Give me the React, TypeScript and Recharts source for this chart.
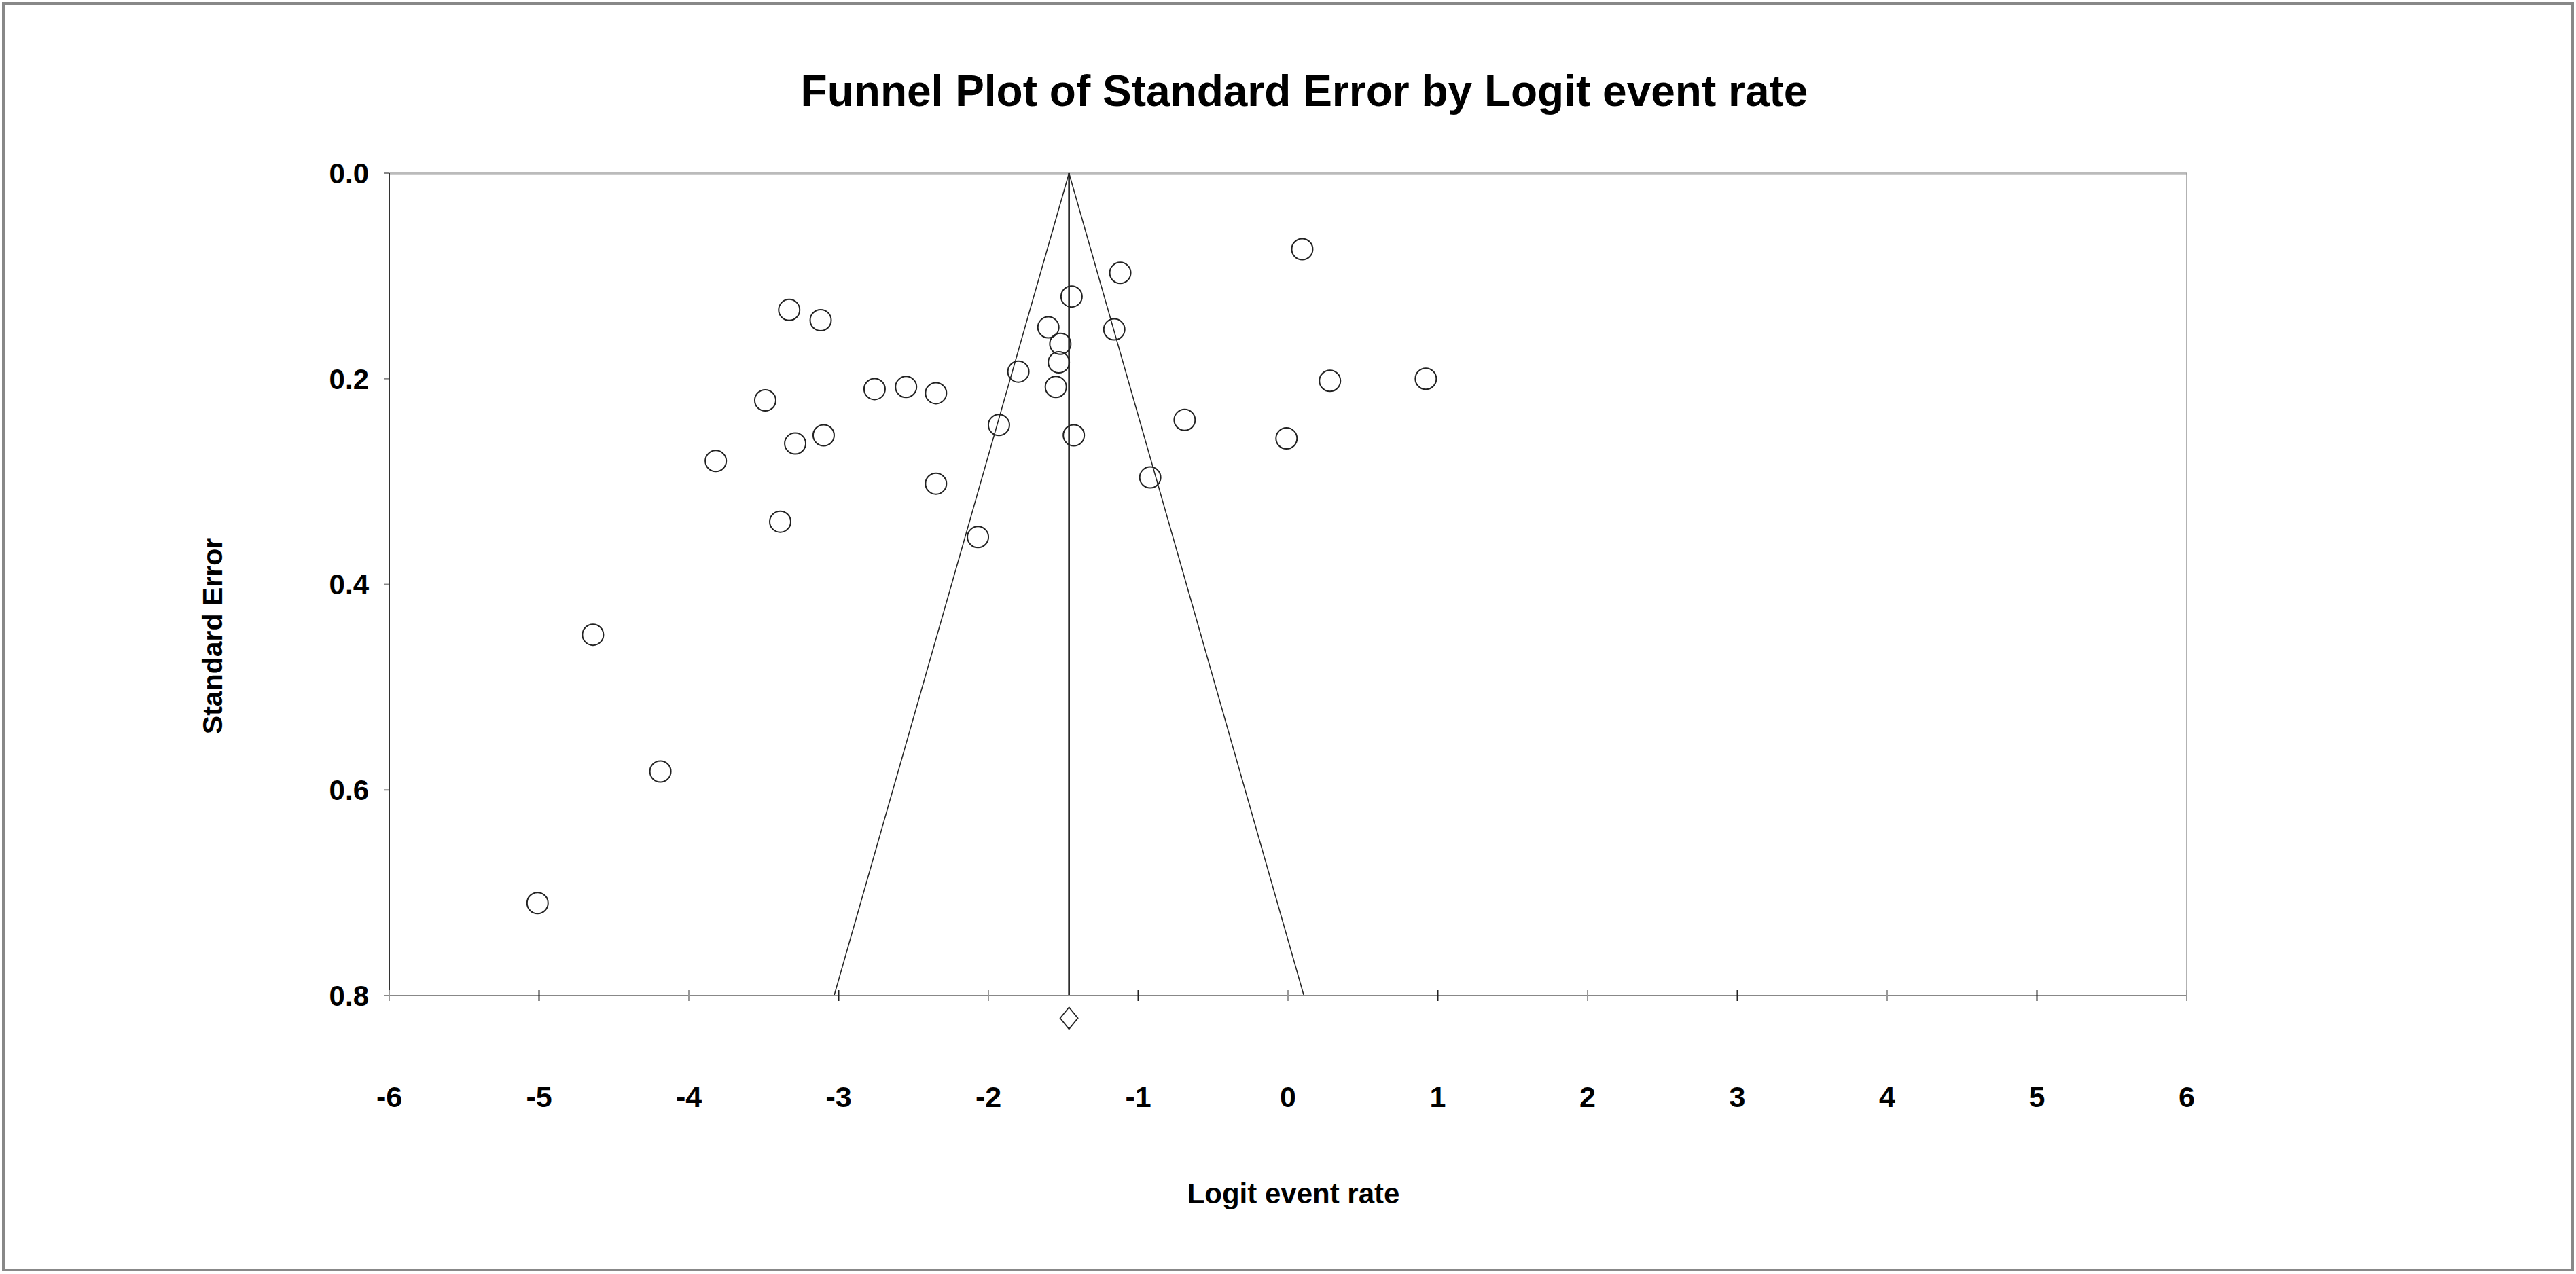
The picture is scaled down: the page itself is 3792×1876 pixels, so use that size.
import {
    ReferenceDot,
    ReferenceLine,
    Scatter,
    ScatterChart,
    XAxis,
    YAxis,
} from 'recharts';

document.body.style.margin = '0';

const FONT = "'Liberation Sans', Arial, Helvetica, sans-serif";

// study estimates
const logitRates = [
    -5.01, -4.64, -4.19, -3.82, -3.49, -3.39, -3.33, -3.29, -3.12, -3.10, -2.76,
    -2.55, -2.35, -2.35, -2.07, -1.93, -1.80, -1.60, -1.55, -1.53, -1.52, -1.445,
    -1.43, -1.16, -1.12, -0.92, -0.69, -0.01, 0.095, 0.28, 0.92,
];
const standardErrors = [
    0.710, 0.449, 0.582, 0.280, 0.221, 0.339, 0.133, 0.263, 0.143, 0.255, 0.210,
    0.208, 0.214, 0.302, 0.354, 0.245, 0.193, 0.150, 0.208, 0.184, 0.166, 0.120,
    0.255, 0.152, 0.097, 0.296, 0.240, 0.258, 0.074, 0.202, 0.200,
];

const xTicks = [-6, -5, -4, -3, -2, -1, 0, 1, 2, 3, 4, 5, 6];
const yTicks = [0, 0.2, 0.4, 0.6, 0.8];

// combined estimate and the 95% funnel limits at SE = 0.8
const pooledLogit = -1.462;
const pooledMarkerSE = 0.822;
const funnelBottom = [-3.03, 0.106];
const maxSE = 0.8;

const points = logitRates.map((x, i) => ({ x, y: standardErrors[i] }));

function XTick({ x, y, payload }: any) {
    const odd = Math.abs(payload.value) % 2 === 1;
    return (
        <g>
            <line x1={x} x2={x} y1={y - 8} y2={y + 8} stroke={odd ? '#222' : '#999'} strokeWidth={2} />
            <text x={x} y={y + 164} textAnchor="middle" fontSize={43} fontWeight="bold" fill="#000">
                {payload.value}
            </text>
        </g>
    );
}

function StudyMarker({ cx, cy }: any) {
    return <circle cx={cx} cy={cy} r={15.5} fill="none" stroke="#222" strokeWidth={2} />;
}

function PooledMarker({ cx, cy }: any) {
    return (
        <path
            d={`M${cx},${cy - 16} L${cx + 13},${cy} L${cx},${cy + 16} L${cx - 13},${cy} Z`}
            fill="#fff"
            stroke="#222"
            strokeWidth={1.8}
        />
    );
}

export default function App() {
    return (
        <div style={{ position: 'relative', width: 3792, height: 1876, background: '#fff', fontFamily: FONT }}>
            <div
                style={{
                    position: 'absolute', left: 3, top: 3, width: 3786, height: 1869,
                    border: '4px solid #888', boxSizing: 'border-box', pointerEvents: 'none',
                }}
            />
            <div
                style={{
                    position: 'absolute', left: 920, top: 102, width: 2000, textAlign: 'center',
                    fontSize: 64, lineHeight: '64px', fontWeight: 'bold', color: '#000',
                }}
            >
                Funnel Plot of Standard Error by Logit event rate
            </div>
            <ScatterChart width={3792} height={1876} margin={{ top: 255, right: 573, bottom: 210, left: 273 }}>
                <XAxis
                    dataKey="x"
                    type="number"
                    domain={[-6, 6]}
                    ticks={xTicks}
                    interval={0}
                    height={200}
                    axisLine={{ stroke: '#888', strokeWidth: 2 }}
                    tickLine={false}
                    tickSize={0}
                    tickMargin={0}
                    tick={(p: any) => <XTick {...p} />}
                    label={{
                        content: ({ viewBox }: any) => (
                            <text
                                x={viewBox.x + viewBox.width / 2 + 8}
                                y={viewBox.y + 306}
                                textAnchor="middle"
                                fontSize={42}
                                fontWeight="bold"
                                fill="#000"
                            >
                                Logit event rate
                            </text>
                        ),
                    }}
                />
                <YAxis
                    dataKey="y"
                    type="number"
                    domain={[0, maxSE]}
                    reversed
                    ticks={yTicks}
                    interval={0}
                    width={300}
                    tickFormatter={(v: number) => v.toFixed(1)}
                    axisLine={{ stroke: '#333', strokeWidth: 2 }}
                    tickLine={{ stroke: '#888', strokeWidth: 2 }}
                    tickSize={7}
                    tickMargin={23}
                    tick={{ fontSize: 42, fontWeight: 'bold', fill: '#000' }}
                    label={{
                        content: ({ viewBox }: any) => {
                            const cx = viewBox.x + 39;
                            const cy = viewBox.y + viewBox.height / 2 + 76;
                            return (
                                <text
                                    x={cx}
                                    y={cy}
                                    dy="0.36em"
                                    transform={`rotate(-90 ${cx} ${cy})`}
                                    textAnchor="middle"
                                    fontSize={41}
                                    fontWeight="bold"
                                    fill="#000"
                                >
                                    Standard Error
                                </text>
                            );
                        },
                    }}
                />
                <ReferenceLine y={0} stroke="#bbb" strokeWidth={3.5} />
                <ReferenceLine x={6} stroke="#999" strokeWidth={1.5} />
                <ReferenceLine x={pooledLogit} stroke="#111" strokeWidth={2.5} />
                <ReferenceLine
                    segment={[{ x: funnelBottom[0], y: maxSE }, { x: pooledLogit, y: 0 }]}
                    stroke="#222"
                    strokeWidth={1.5}
                />
                <ReferenceLine
                    segment={[{ x: pooledLogit, y: 0 }, { x: funnelBottom[1], y: maxSE }]}
                    stroke="#222"
                    strokeWidth={1.5}
                />
                <Scatter data={points} shape={(p: any) => <StudyMarker {...p} />} isAnimationActive={false} />
                <ReferenceDot
                    x={pooledLogit}
                    y={pooledMarkerSE}
                    ifOverflow="visible"
                    shape={(p: any) => <PooledMarker {...p} />}
                />
            </ScatterChart>
        </div>
    );
}
